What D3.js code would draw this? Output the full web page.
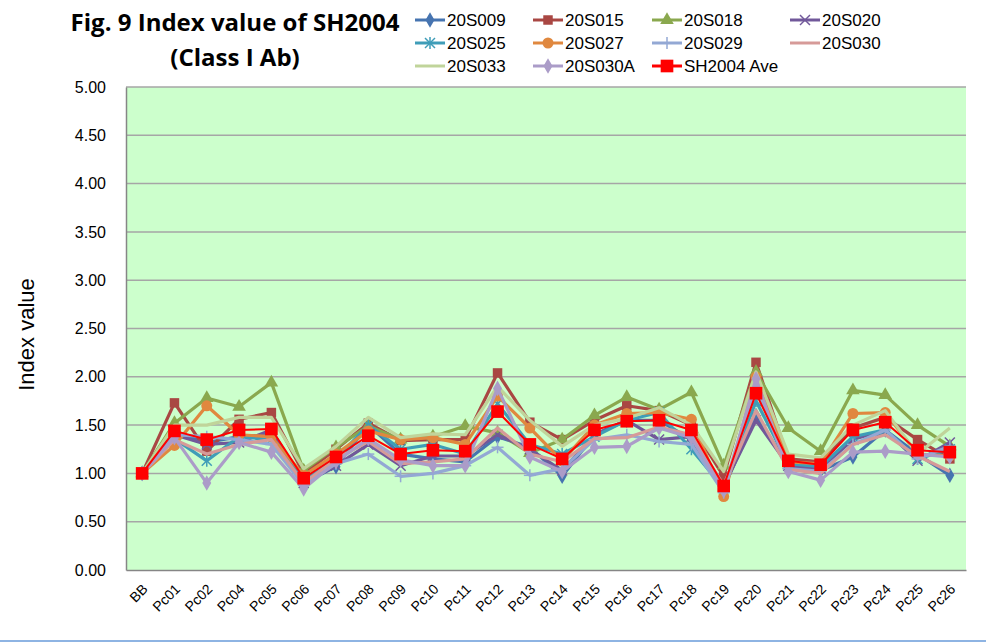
<!DOCTYPE html>
<html>
<head>
<meta charset="utf-8">
<script src="https://cdn.jsdelivr.net/npm/d3@7"></script>
<style>
  body { margin: 0; background: #fff; }
  svg { display: block; }
</style>
</head>
<body>
<div id="chart"></div>
<script>
// categories on x axis
var cats = ["BB","Pc01","Pc02","Pc04","Pc05","Pc06","Pc07","Pc08","Pc09","Pc10","Pc11","Pc12","Pc13",
  "Pc14","Pc15","Pc16","Pc17","Pc18","Pc19","Pc20","Pc21","Pc22","Pc23","Pc24","Pc25","Pc26"];

var yTicks = [0, 0.5, 1, 1.5, 2, 2.5, 3, 3.5, 4, 4.5, 5];

// series values
var s20S009  = [1.00,1.42,1.32,1.38,1.40,0.90,1.07,1.50,1.20,1.15,1.12,1.38,1.27,0.97,1.40,1.55,1.55,1.35,0.85,1.60,1.08,1.03,1.17,1.45,1.20,0.98];
var s20S015  = [1.00,1.73,1.23,1.56,1.63,1.00,1.25,1.52,1.34,1.35,1.35,2.04,1.53,1.35,1.55,1.70,1.65,1.50,0.97,2.15,1.15,1.12,1.47,1.58,1.35,1.15];
var s20S018  = [1.00,1.52,1.78,1.69,1.94,1.03,1.27,1.49,1.35,1.38,1.49,1.42,1.21,1.35,1.60,1.79,1.66,1.84,1.08,2.05,1.47,1.23,1.86,1.81,1.50,1.28];
var s20S020  = [1.00,1.40,1.30,1.32,1.45,0.90,1.08,1.30,1.08,1.18,1.18,1.40,1.25,1.03,1.40,1.55,1.35,1.38,0.87,1.55,1.08,1.05,1.35,1.45,1.13,1.32];
var s20S025  = [1.00,1.36,1.13,1.38,1.35,0.92,1.15,1.50,1.25,1.30,1.20,1.72,1.30,1.20,1.38,1.55,1.63,1.25,0.85,1.75,1.10,1.07,1.38,1.45,1.15,1.25];
var s20S027  = [1.00,1.29,1.70,1.40,1.38,0.98,1.20,1.44,1.35,1.37,1.30,1.80,1.47,1.13,1.50,1.62,1.63,1.56,0.76,2.00,1.12,1.10,1.62,1.63,1.20,1.18];
var s20S029  = [1.00,1.40,1.38,1.35,1.30,0.88,1.10,1.20,0.97,1.00,1.08,1.27,0.98,1.05,1.35,1.40,1.33,1.30,0.80,1.90,1.05,1.02,1.30,1.45,1.15,1.28];
var s20S030  = [1.00,1.35,1.20,1.30,1.35,0.90,1.15,1.33,1.10,1.12,1.15,1.47,1.20,1.12,1.36,1.37,1.48,1.40,0.88,1.65,1.04,1.00,1.30,1.40,1.18,1.02];
var s20S033  = [1.00,1.50,1.50,1.58,1.58,1.05,1.28,1.58,1.37,1.41,1.40,1.90,1.55,1.28,1.50,1.57,1.68,1.50,1.02,2.05,1.20,1.16,1.50,1.65,1.20,1.47];
var s20S030A = [1.00,1.37,0.90,1.32,1.22,0.84,1.12,1.36,1.14,1.08,1.08,1.88,1.17,1.02,1.27,1.28,1.47,1.37,0.82,1.98,1.02,0.93,1.22,1.23,1.20,1.17];
var sAve     = [1.00,1.44,1.35,1.45,1.46,0.95,1.17,1.39,1.20,1.24,1.23,1.64,1.30,1.15,1.45,1.54,1.55,1.45,0.87,1.83,1.13,1.09,1.45,1.53,1.24,1.22];

var seriesNames  = ["20S009","20S015","20S018","20S020","20S025","20S027","20S029","20S030","20S033","20S030A","SH2004 Ave"];
var seriesValues = [s20S009,s20S015,s20S018,s20S020,s20S025,s20S027,s20S029,s20S030,s20S033,s20S030A,sAve];
var seriesColors = ["#4674b0","#a94743","#8aa84e","#71589a","#3f9db8","#e0883f","#93a8d4","#d69a98","#c0d49a","#ab9cc8","#ff0000"];
var seriesMarks  = ["diamond","square","triangle","x","asterisk","circle","plus","none","none","diamond","bigsquare"];

var W = 986, H = 644;
var plotL = 126, plotR = 966, plotT = 87, plotB = 570;

var svg = d3.select("#chart").append("svg")
  .attr("width", W)
  .attr("height", H);

var x = d3.scalePoint()
  .domain(cats)
  .range([plotL, plotR])
  .padding(0.5);

var y = d3.scaleLinear()
  .domain([0, 5])
  .range([plotB, plotT]);

// plot area
svg.append("rect")
  .attr("x", plotL)
  .attr("y", plotT)
  .attr("width", plotR - plotL)
  .attr("height", plotB - plotT)
  .attr("fill", "#ccffcc");

// gridlines
svg.append("g")
  .selectAll("line")
  .data(yTicks.filter(function(d){ return d > 0; }))
  .join("line")
  .attr("x1", plotL)
  .attr("x2", plotR)
  .attr("y1", function(d){ return y(d); })
  .attr("y2", function(d){ return y(d); })
  .attr("stroke", "#a6a6a6")
  .attr("stroke-width", 1.5);

// y axis
var yAxis = svg.append("g")
  .attr("transform", "translate(" + plotL + ",0)")
  .call(d3.axisLeft(y).tickValues(yTicks).tickFormat(d3.format(".2f")).tickSize(0).tickPadding(20));
yAxis.select(".domain").attr("stroke", "#868686").attr("stroke-width", 1.5);
yAxis.selectAll("text")
  .attr("font-family", "Liberation Sans, Arial, sans-serif")
  .attr("font-size", 16)
  .attr("fill", "#000");

// x axis
var xAxis = svg.append("g")
  .attr("transform", "translate(0," + plotB + ")")
  .call(d3.axisBottom(x).tickSize(0).tickPadding(0));
xAxis.select(".domain").attr("stroke", "#868686").attr("stroke-width", 1.5);
xAxis.selectAll("text")
  .attr("font-family", "Liberation Sans, Arial, sans-serif")
  .attr("font-size", 14)
  .attr("fill", "#000")
  .attr("text-anchor", "end")
  .attr("dy", null)
  .attr("y", 0)
  .attr("transform", "translate(6,20) rotate(-45)");

// y title
svg.append("text")
  .attr("transform", "translate(34," + ((plotT + plotB) / 2 + 6) + ") rotate(-90)")
  .attr("text-anchor", "middle")
  .attr("font-family", "Liberation Sans, Arial, sans-serif")
  .attr("font-size", 22)
  .text("Index value");

// chart title
var title = svg.append("text")
  .attr("text-anchor", "middle")
  .attr("font-family", "Open Sans, sans-serif")
  .attr("font-weight", 700)
  .attr("font-size", 24);
title.append("tspan").attr("x", 235).attr("y", 31).text("Fig. 9 Index value of SH2004");
title.append("tspan").attr("x", 235).attr("y", 66).text("(Class I Ab)");

// marker drawing
function drawMarker(g, type, color) {
  var sym = null, size = 0;
  if (type === "diamond") { sym = d3.symbolDiamond; size = 70; }
  if (type === "square") { sym = d3.symbolSquare; size = 90; }
  if (type === "bigsquare") { sym = d3.symbolSquare; size = 160; }
  if (type === "triangle") { sym = d3.symbolTriangle; size = 80; }
  if (type === "circle") { sym = d3.symbolCircle; size = 95; }
  if (sym) {
    g.append("path")
      .attr("d", d3.symbol().type(sym).size(size))
      .attr("fill", color);
  } else if (type === "x" || type === "asterisk" || type === "plus") {
    var r = 5, segs = [];
    if (type === "x" || type === "asterisk") segs.push([-r,-r,r,r], [-r,r,r,-r]);
    if (type === "plus" || type === "asterisk") segs.push([0,-r-1,0,r+1]);
    if (type === "plus") segs.push([-r-1,0,r+1,0]);
    segs.forEach(function(s){
      g.append("line")
        .attr("x1", s[0]).attr("y1", s[1]).attr("x2", s[2]).attr("y2", s[3])
        .attr("stroke", color).attr("stroke-width", 1.5);
    });
  }
}

var line = d3.line()
  .x(function(d, i){ return x(cats[i]); })
  .y(function(d){ return y(d); });

// series
seriesValues.forEach(function(vals, k) {
  var isAve = k === seriesValues.length - 1;
  var g = svg.append("g").attr("class", "series");
  g.append("path")
    .datum(vals)
    .attr("d", line)
    .attr("fill", "none")
    .attr("stroke", seriesColors[k])
    .attr("stroke-width", isAve ? 2 : 3.2)
    .attr("stroke-linejoin", "round");
  vals.forEach(function(v, i) {
    var m = g.append("g").attr("transform", "translate(" + x(cats[i]) + "," + y(v) + ")");
    drawMarker(m, seriesMarks[k], seriesColors[k]);
  });
});

// legend
var legCols = [415, 533, 652, 790];
var legRows = [20, 43, 66];
seriesNames.forEach(function(name, k) {
  var cx = legCols[k % 4], cy = legRows[Math.floor(k / 4)];
  var g = svg.append("g").attr("transform", "translate(" + cx + "," + cy + ")");
  g.append("line")
    .attr("x1", 0).attr("x2", 30)
    .attr("stroke", seriesColors[k])
    .attr("stroke-width", 3);
  var m = g.append("g").attr("transform", "translate(15,0)");
  drawMarker(m, seriesMarks[k], seriesColors[k]);
  g.append("text")
    .attr("x", 32)
    .attr("y", 6)
    .attr("font-family", "Liberation Sans, Arial, sans-serif")
    .attr("font-size", 17)
    .text(name);
});

// frame edge at bottom
svg.append("line")
  .attr("x1", 0).attr("x2", W)
  .attr("y1", 641).attr("y2", 641)
  .attr("stroke", "#8eb4e3")
  .attr("stroke-width", 2);
</script>
</body>
</html>
